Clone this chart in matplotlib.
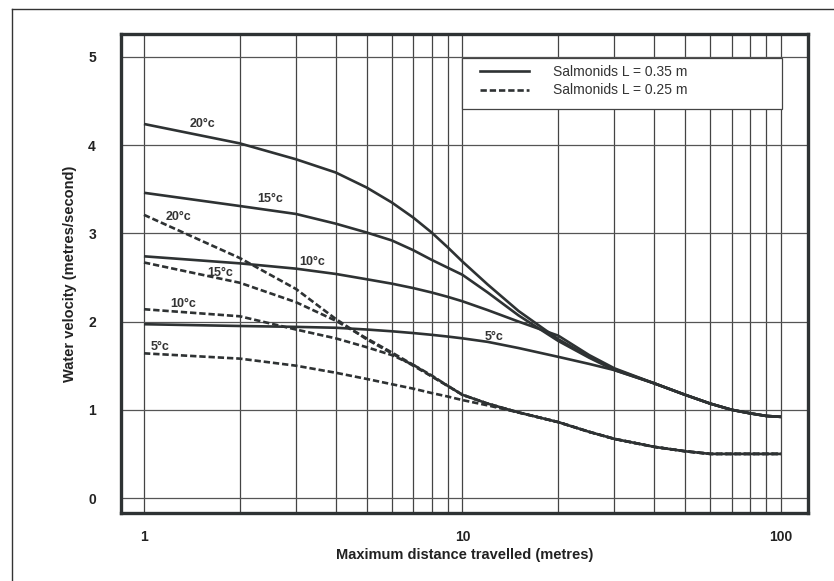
import matplotlib
matplotlib.use("Agg")
import matplotlib.pyplot as plt
from matplotlib.lines import Line2D
from matplotlib.patches import Rectangle

dist = [1, 2, 3, 4, 5, 6, 7, 8, 9, 10, 12, 15, 20, 25, 30, 40, 50, 60, 70, 80, 90, 100]

# Salmonids L = 0.35 m (solid)
solid_20 = [4.24, 4.02, 3.84, 3.69, 3.52, 3.35, 3.18, 3.01, 2.84, 2.68, 2.42, 2.12, 1.80, 1.60, 1.46, 1.30, 1.17, 1.07, 1.00, 0.96, 0.93, 0.92]
solid_15 = [3.46, 3.31, 3.22, 3.11, 3.01, 2.92, 2.81, 2.70, 2.61, 2.53, 2.33, 2.07, 1.78, 1.59, 1.45, 1.30, 1.17, 1.07, 1.00, 0.96, 0.93, 0.92]
solid_10 = [2.74, 2.66, 2.60, 2.54, 2.48, 2.43, 2.38, 2.33, 2.28, 2.23, 2.13, 2.00, 1.84, 1.62, 1.47, 1.30, 1.17, 1.07, 1.00, 0.96, 0.93, 0.92]
solid_5 = [1.97, 1.95, 1.94, 1.93, 1.91, 1.89, 1.87, 1.85, 1.83, 1.81, 1.77, 1.70, 1.60, 1.52, 1.45, 1.30, 1.17, 1.07, 1.00, 0.96, 0.93, 0.92]

# Salmonids L = 0.25 m (dashed)
dash_20 = [3.21, 2.72, 2.37, 2.03, 1.80, 1.64, 1.50, 1.38, 1.27, 1.17, 1.07, 0.97, 0.86, 0.75, 0.67, 0.58, 0.53, 0.50, 0.50, 0.50, 0.50, 0.50]
dash_15 = [2.67, 2.44, 2.22, 2.01, 1.81, 1.65, 1.51, 1.38, 1.27, 1.17, 1.07, 0.97, 0.86, 0.75, 0.67, 0.58, 0.53, 0.50, 0.50, 0.50, 0.50, 0.50]
dash_10 = [2.14, 2.06, 1.91, 1.81, 1.71, 1.62, 1.51, 1.39, 1.27, 1.17, 1.07, 0.97, 0.86, 0.75, 0.67, 0.58, 0.53, 0.50, 0.50, 0.50, 0.50, 0.50]
dash_5 = [1.64, 1.58, 1.50, 1.42, 1.35, 1.29, 1.24, 1.19, 1.15, 1.11, 1.05, 0.97, 0.86, 0.75, 0.67, 0.58, 0.53, 0.50, 0.50, 0.50, 0.50, 0.50]

# curve labels: (text, x, y)
curve_labels = [
    ("20°c", 1.53, 4.24), ("15°c", 2.49, 3.39), ("10°c", 3.37, 2.68), ("5°c", 12.6, 1.82),
    ("20°c", 1.28, 3.18), ("15°c", 1.73, 2.55), ("10°c", 1.33, 2.20), ("5°c", 1.12, 1.71),
]

legend_labels = ["Salmonids L = 0.35 m", "Salmonids L = 0.25 m"]

grid_x = [1, 2, 3, 4, 5, 6, 7, 8, 9, 10, 20, 30, 40, 50, 60, 70, 80, 90, 100]
grid_y = [0, 1, 2, 3, 4, 5]

ink = "#2e3233"
narrow = ["Liberation Sans Narrow", "Liberation Sans", "DejaVu Sans"]
plt.rcParams["font.family"] = ["Liberation Sans", "DejaVu Sans"]

fig = plt.figure(figsize=(8.34, 5.81), dpi=100)
ax = fig.add_axes([121 / 834, 1 - 513 / 581, 687 / 834, 479 / 581])

ax.set_xscale("log")
ax.set_xlim(0.847, 121.6)
ax.set_ylim(-0.17, 5.26)

for gx in grid_x:
    ax.axvline(gx, color="#444444", lw=0.9, zorder=1)
for gy in grid_y:
    ax.axhline(gy, color="#555555", lw=0.9, zorder=1)

dash = (0, (2.4, 1.1))
for ys in [solid_20, solid_15, solid_10, solid_5]:
    ax.plot(dist, ys, color=ink, lw=1.9, solid_capstyle="butt", zorder=3)
for ys in [dash_20, dash_15, dash_10, dash_5]:
    ax.plot(dist, ys, color=ink, lw=1.9, linestyle=dash, zorder=3)

for txt, x, y in curve_labels:
    ax.text(x, y, txt, fontsize=9, fontweight="bold", color="#333333",
            ha="center", va="center", zorder=4)

# legend box sits on the grid between 10 and 100 m
ax.add_patch(Rectangle((10, 4.41), 90.6, 0.58, facecolor="white",
                       edgecolor="#444444", lw=0.9, zorder=5))
handles = [Line2D([], [], color=ink, lw=1.9),
           Line2D([], [], color=ink, lw=1.9, linestyle=dash)]
leg = ax.legend(handles, legend_labels, loc="upper left",
                bbox_to_anchor=((480 - 121) / 687, (513 - 65) / 479),
                fontsize=10, frameon=False, borderpad=0, labelspacing=0.32,
                handlelength=3.5, handletextpad=1.75, borderaxespad=0)
leg.set_zorder(6)
for t in leg.get_texts():
    t.set_color("#333333")

ax.set_xticks([1, 10, 100])
ax.set_xticklabels(["1", "10", "100"])
ax.set_xticks([], minor=True)
ax.set_yticks(grid_y)
ax.tick_params(length=0, labelsize=10, colors="#222222")
ax.tick_params(axis="x", pad=12)
ax.tick_params(axis="y", pad=18)
for lab in ax.get_xticklabels() + ax.get_yticklabels():
    lab.set_fontweight("bold")

ax.set_xlabel("Maximum distance travelled (metres)", fontsize=10.5,
              fontweight="bold", family=narrow, color="#222222", labelpad=3)
ax.set_ylabel("Water velocity (metres/second)", fontsize=10.5,
              fontweight="bold", family=narrow, color="#222222", labelpad=8)

for sp in ax.spines.values():
    sp.set_linewidth(2.4)
    sp.set_color(ink)
    sp.set_zorder(7)

# thin frame around the figure (left and top edges)
fig.add_artist(Line2D([12 / 834, 12 / 834], [0, 1 - 9 / 581], color="#333333", lw=1.0))
fig.add_artist(Line2D([12 / 834, 1], [1 - 9 / 581, 1 - 9 / 581], color="#333333", lw=1.0))

fig.savefig("out.png", dpi=100)
